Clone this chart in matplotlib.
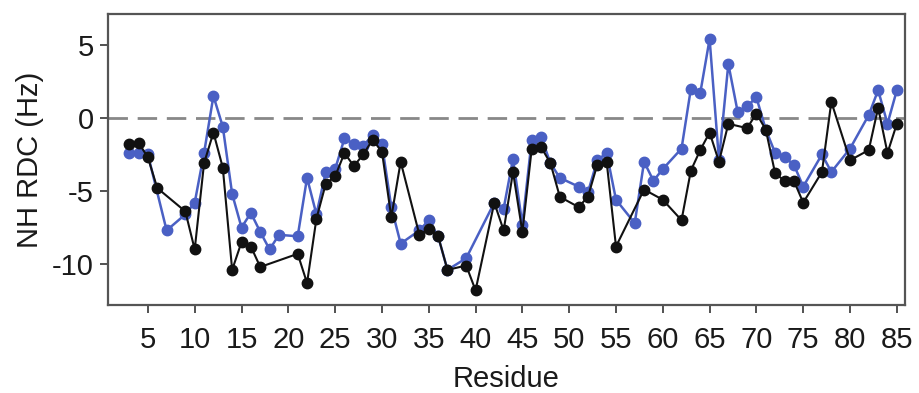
import numpy as np
import matplotlib
matplotlib.use("Agg")
import matplotlib.pyplot as plt

plt.rcParams['font.family'] = ['Liberation Sans', 'DejaVu Sans']
plt.rcParams['axes.unicode_minus'] = False

# black series
res_black = [3, 4, 5, 6, 9, 10, 11, 12, 13, 14, 15, 16, 17, 21, 22, 23, 24, 25, 26, 27,
             28, 29, 30, 31, 32, 34, 35, 36, 37, 39, 40, 42, 43, 44, 45, 46, 47, 48, 49,
             51, 52, 53, 54, 55, 58, 60, 62, 63, 64, 65, 66, 67, 69, 70, 71, 72, 73, 74,
             75, 77, 78, 80, 82, 83, 84, 85]
rdc_black = [-1.8, -1.7, -2.7, -4.8, -6.4, -9.0, -3.1, -1.0, -3.4, -10.4, -8.5, -8.8, -10.2,
             -9.3, -11.3, -6.9, -4.5, -4.0, -2.4, -3.3, -2.5, -1.5, -2.3, -6.8, -3.0, -8.0,
             -7.6, -8.1, -10.4, -10.1, -11.8, -5.8, -7.7, -3.7, -7.8, -2.1, -2.0, -3.1, -5.4,
             -6.1, -5.4, -3.2, -3.0, -8.8, -4.9, -5.6, -7.0, -3.6, -2.2, -1.0, -3.0, -0.4,
             -0.7, 0.3, -0.8, -3.8, -4.3, -4.3, -5.8, -3.7, 1.1, -2.9, -2.2, 0.7, -2.4, -0.4]

# blue series
res_blue = [3, 4, 5, 7, 9, 10, 11, 12, 13, 14, 15, 16, 17, 18, 19, 21, 22, 23, 24, 25, 26,
            27, 28, 29, 30, 31, 32, 34, 35, 36, 37, 39, 42, 43, 44, 45, 46, 47, 48, 49, 51,
            52, 53, 54, 55, 57, 58, 59, 60, 62, 63, 64, 65, 66, 67, 68, 69, 70, 71, 72, 73,
            74, 75, 77, 78, 80, 82, 83, 84, 85]
rdc_blue = [-2.4, -2.4, -2.5, -7.7, -6.6, -5.8, -2.4, 1.5, -0.6, -5.2, -7.5, -6.5, -7.8, -9.0,
            -8.0, -8.1, -4.1, -6.6, -3.7, -3.5, -1.4, -1.8, -1.9, -1.2, -1.8, -6.1, -8.6, -7.7,
            -7.0, -8.1, -10.4, -9.6, -5.8, -6.2, -2.8, -7.3, -1.5, -1.3, -3.1, -4.1, -4.7,
            -5.1, -2.9, -2.4, -5.6, -7.2, -3.0, -4.3, -3.5, -2.1, 2.0, 1.7, 5.4, -2.9, 3.7,
            0.4, 0.8, 1.4, -0.8, -2.4, -2.7, -3.2, -4.7, -2.5, -3.7, -2.1, 0.2, 1.9, -0.4, 1.9]

xticks = list(range(5, 90, 5))
yticks = [-10, -5, 0, 5]

fig = plt.figure(figsize=(9.2, 3.93), dpi=100)
ax = fig.add_axes([0.117, 0.224, 0.867, 0.740])

ax.axhline(0, color='#888888', lw=2, ls=(0, (7, 3.5)), zorder=1)
ax.plot(res_blue, rdc_blue, '-o', color='#4a60c4', lw=1.8, ms=7.5, zorder=2)
ax.plot(res_black, rdc_black, '-o', color='#111111', lw=1.5, ms=7.5, zorder=3)

ax.set_xlim(0.7, 85.9)
ax.set_ylim(-12.8, 7.1)
ax.set_xticks(xticks)
ax.set_yticks(yticks)
ax.tick_params(axis='both', direction='out', length=6, width=1.2, labelsize=21,
               color='#333333', labelcolor='#1a1a1a')
ax.tick_params(axis='x', pad=9)
ax.tick_params(axis='y', pad=4)
for s in ax.spines.values():
    s.set_color('#555555')
    s.set_linewidth(1.6)

ax.set_xlabel('Residue', fontsize=21, color='#1a1a1a', labelpad=8)
ax.set_ylabel('NH RDC (Hz)', fontsize=21, color='#1a1a1a', labelpad=6)

fig.savefig('out.png', dpi=100)
